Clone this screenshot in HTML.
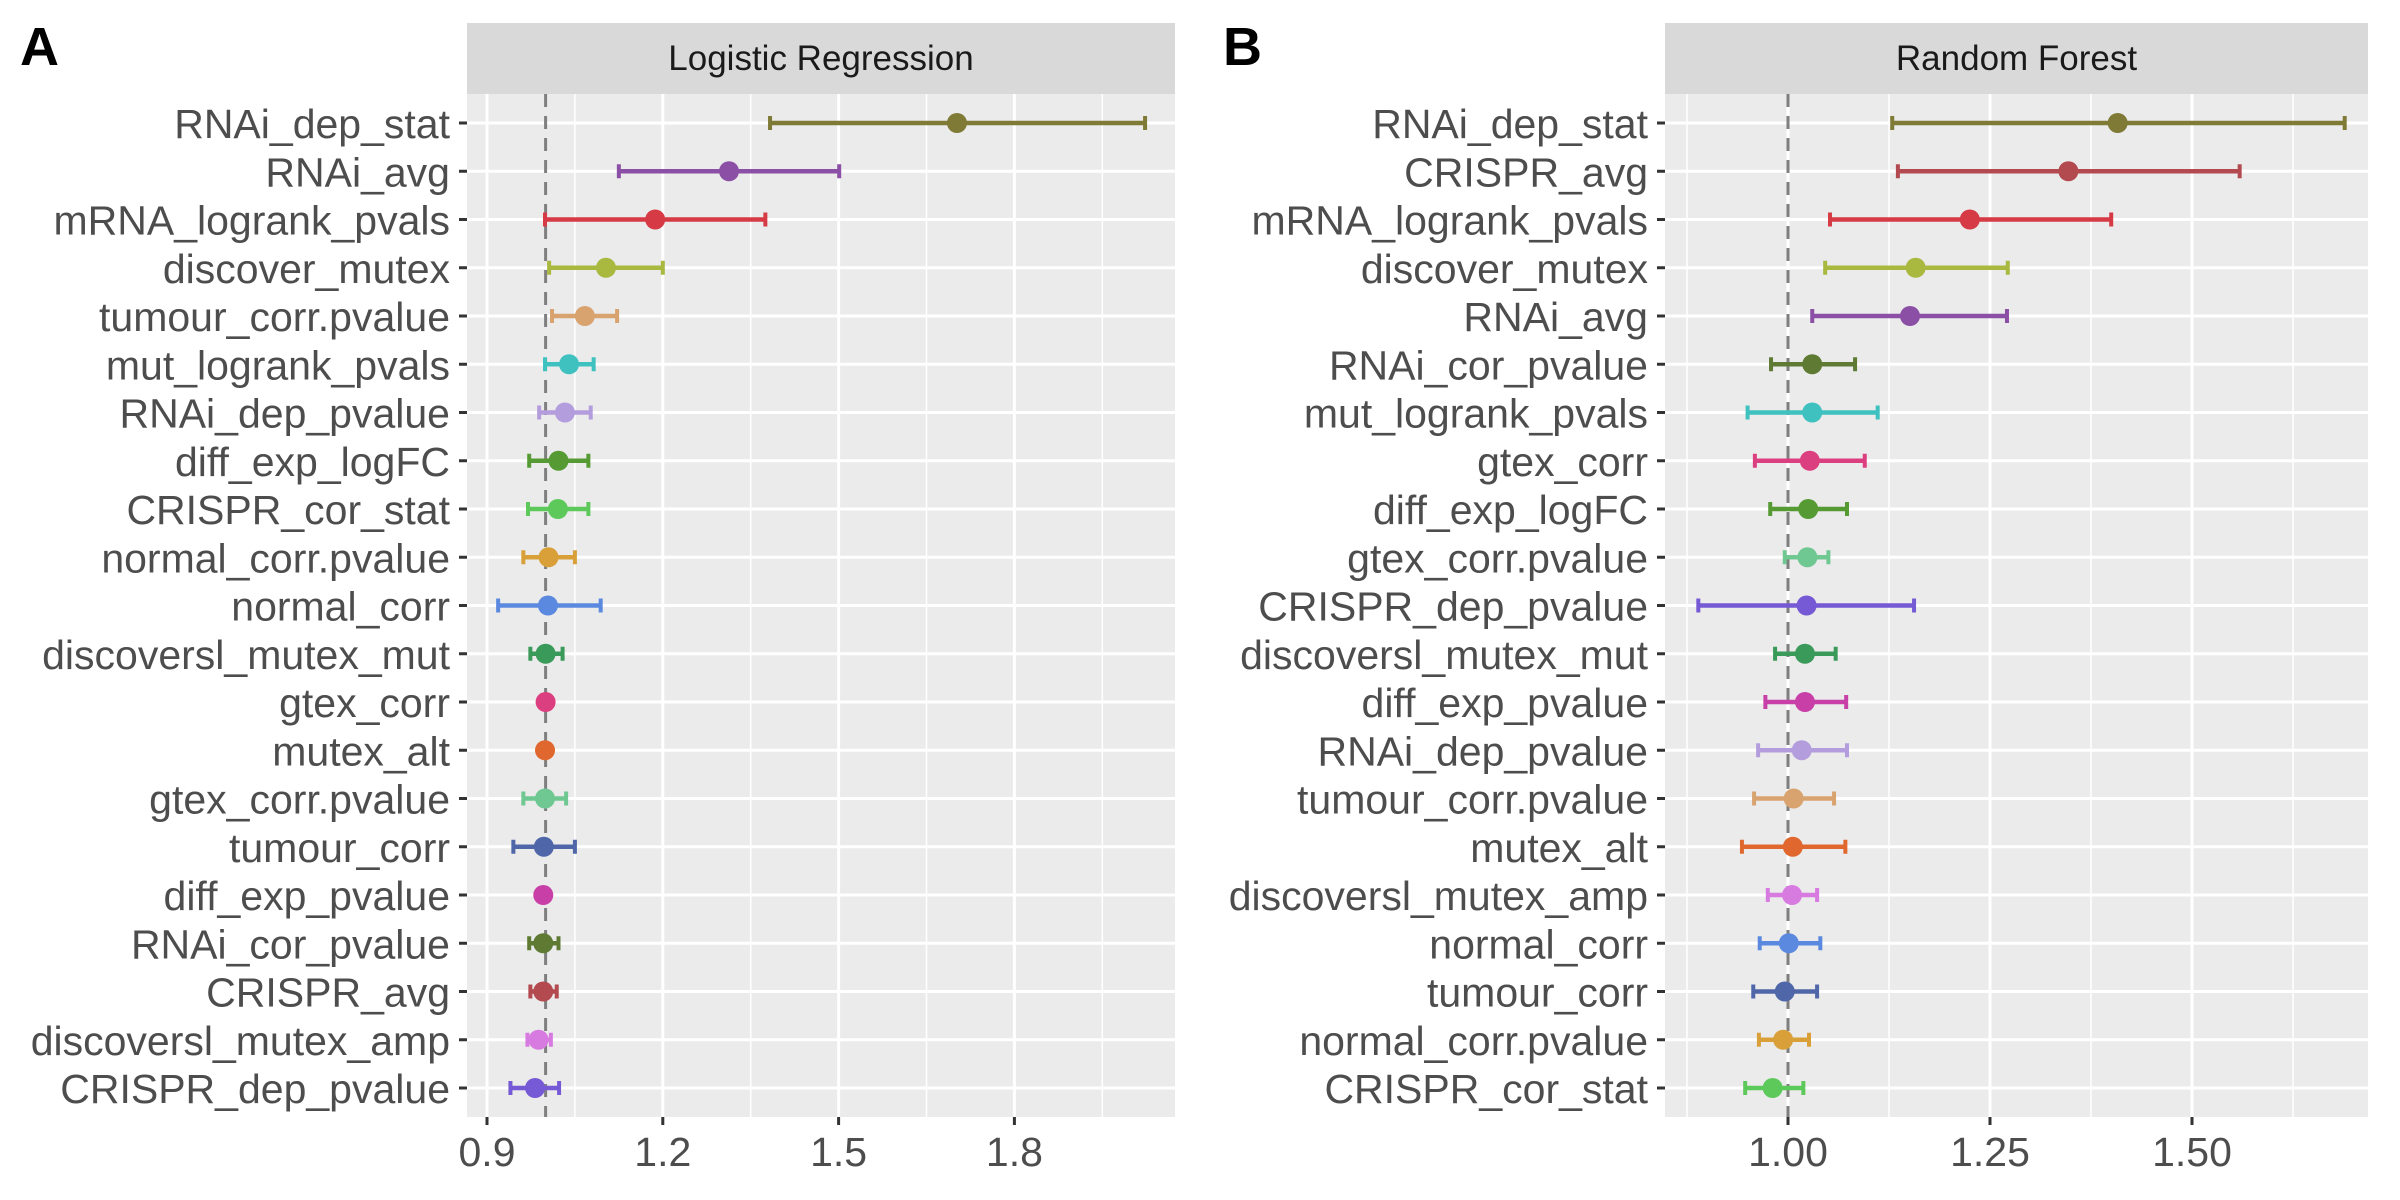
<!DOCTYPE html>
<html><head><meta charset="utf-8"><style>
html,body{margin:0;padding:0;background:#fff;}
svg{display:block;font-family:"Liberation Sans",sans-serif;}
</style></head><body>
<svg id="chart" width="2400" height="1200" viewBox="0 0 2400 1200" xmlns="http://www.w3.org/2000/svg"></svg>
<script>
// Panel A: Logistic Regression
const lrFeatures = ["RNAi_dep_stat","RNAi_avg","mRNA_logrank_pvals","discover_mutex","tumour_corr.pvalue","mut_logrank_pvals","RNAi_dep_pvalue","diff_exp_logFC","CRISPR_cor_stat","normal_corr.pvalue","normal_corr","discoversl_mutex_mut","gtex_corr","mutex_alt","gtex_corr.pvalue","tumour_corr","diff_exp_pvalue","RNAi_cor_pvalue","CRISPR_avg","discoversl_mutex_amp","CRISPR_dep_pvalue"];
const lrEst = [1.702,1.313,1.187,1.103,1.067,1.040,1.033,1.022,1.021,1.005,1.004,1.000,1.000,0.999,0.999,0.997,0.996,0.996,0.996,0.988,0.982];
const lrLow = [1.383,1.125,0.999,1.006,1.011,0.999,0.989,0.972,0.970,0.962,0.919,0.974,0.996,0.996,0.962,0.945,0.993,0.972,0.974,0.969,0.940];
const lrHigh = [2.023,1.501,1.375,1.200,1.122,1.082,1.077,1.073,1.073,1.050,1.094,1.029,1.004,1.002,1.035,1.050,0.999,1.022,1.019,1.009,1.023];
const lrTicks = [0.9,1.2,1.5,1.8];
const lrTickLabels = ["0.9","1.2","1.5","1.8"];
const lrMinor = [1.05,1.35,1.65,1.95];
// Panel B: Random Forest
const rfFeatures = ["RNAi_dep_stat","CRISPR_avg","mRNA_logrank_pvals","discover_mutex","RNAi_avg","RNAi_cor_pvalue","mut_logrank_pvals","gtex_corr","diff_exp_logFC","gtex_corr.pvalue","CRISPR_dep_pvalue","discoversl_mutex_mut","diff_exp_pvalue","RNAi_dep_pvalue","tumour_corr.pvalue","mutex_alt","discoversl_mutex_amp","normal_corr","tumour_corr","normal_corr.pvalue","CRISPR_cor_stat"];
const rfEst = [1.408,1.347,1.225,1.158,1.151,1.030,1.030,1.027,1.025,1.024,1.023,1.021,1.021,1.017,1.007,1.006,1.005,1.001,0.996,0.994,0.981];
const rfLow = [1.129,1.136,1.052,1.046,1.030,0.979,0.950,0.959,0.978,0.996,0.889,0.984,0.972,0.963,0.958,0.943,0.975,0.965,0.957,0.964,0.947];
const rfHigh = [1.689,1.559,1.400,1.272,1.271,1.083,1.111,1.095,1.073,1.050,1.156,1.059,1.072,1.073,1.057,1.071,1.036,1.040,1.036,1.026,1.019];
const rfTicks = [1.0,1.25,1.5];
const rfTickLabels = ["1.00","1.25","1.50"];
const rfMinor = [0.875,1.125,1.375,1.625];

const featColors = {
 "RNAi_dep_stat":"#7f7a35","RNAi_avg":"#8b4fa6","mRNA_logrank_pvals":"#d63a44","discover_mutex":"#a9b83f",
 "tumour_corr.pvalue":"#d9a36f","mut_logrank_pvals":"#3fc1c0","RNAi_dep_pvalue":"#b49ddd","diff_exp_logFC":"#559a32",
 "CRISPR_cor_stat":"#5ec95b","normal_corr.pvalue":"#d9a03a","normal_corr":"#5b89e0","discoversl_mutex_mut":"#3a9a5a",
 "gtex_corr":"#dc3f7f","mutex_alt":"#e0682f","gtex_corr.pvalue":"#6fc891","tumour_corr":"#4f66a8",
 "diff_exp_pvalue":"#c83fa8","RNAi_cor_pvalue":"#5e7a33","CRISPR_avg":"#b24a50","discoversl_mutex_amp":"#d77be0",
 "CRISPR_dep_pvalue":"#7559d5"};

const NS="http://www.w3.org/2000/svg";
const svg=document.getElementById('chart');
function mk(tag,attrs,parent){const e=document.createElementNS(NS,tag);for(const k in attrs)e.setAttribute(k,attrs[k]);(parent||svg).appendChild(e);return e;}

function panel(cfg){
  const g=mk('g',{});
  
  
  const top=94,bot=1117,rowTop=123,rowStep=48.25;
  const x=v=>cfg.x0+(v-cfg.v0)*cfg.ppu;
  const y=i=>rowTop+i*rowStep;
  const L=mk('text',{x:cfg.letterX,y:65,'font-size':54,'font-weight':'bold',fill:'#000'},g);
  L.textContent=cfg.letter;
  
  
  const s=mk('rect',{x:cfg.left,y:23,width:cfg.right-cfg.left,height:71,fill:'#d9d9d9'},g);
  
  
  const st=mk('text',{x:(cfg.left+cfg.right)/2,y:70,'font-size':35,'text-anchor':'middle',fill:'#1a1a1a'},g);
  st.textContent=cfg.title;
  
  
  const bg=mk('rect',{x:cfg.left,y:top,width:cfg.right-cfg.left,height:bot-top,fill:'#ebebeb'},g);
  
  
  cfg.minor.forEach(v=>{const l=mk('line',{x1:x(v),x2:x(v),y1:top,y2:bot,stroke:'#fff','stroke-width':1.5},g);
    
    });
  cfg.ticks.forEach(v=>{const l=mk('line',{x1:x(v),x2:x(v),y1:top,y2:bot,stroke:'#fff','stroke-width':3},g);
    
    });
  cfg.feats.forEach((f,i)=>{const l=mk('line',{x1:cfg.left,x2:cfg.right,y1:y(i),y2:y(i),stroke:'#fff','stroke-width':3},g);
    
    });
  const ref=mk('line',{x1:x(1),x2:x(1),y1:top,y2:bot,stroke:'#7f7f7f','stroke-width':3,'stroke-dasharray':'13,9'},g);
  
  
  cfg.feats.forEach((f,i)=>{
    const c=featColors[f]; const yy=y(i);
    const eg=mk('g',{},g);
    
    
    mk('line',{x1:x(cfg.low[i]),x2:x(cfg.high[i]),y1:yy,y2:yy,stroke:c,'stroke-width':4.5},eg);
    mk('line',{x1:x(cfg.low[i]),x2:x(cfg.low[i]),y1:yy-7,y2:yy+7,stroke:c,'stroke-width':4},eg);
    mk('line',{x1:x(cfg.high[i]),x2:x(cfg.high[i]),y1:yy-7,y2:yy+7,stroke:c,'stroke-width':4},eg);
    const p=mk('circle',{cx:x(cfg.est[i]),cy:yy,r:10,fill:c},g);
    
    
    const t=mk('line',{x1:cfg.left-8,x2:cfg.left,y1:yy,y2:yy,stroke:'#333','stroke-width':3},g);
    
    
    const lb=mk('text',{x:cfg.left-17,y:yy+15,'font-size':41,'text-anchor':'end',fill:'#4d4d4d'},g);
    lb.textContent=f;
    
    
  });
  cfg.ticks.forEach((v,i)=>{
    const t=mk('line',{x1:x(v),x2:x(v),y1:bot,y2:bot+8,stroke:'#333','stroke-width':3},g);
    
    
    const lb=mk('text',{x:x(v),y:1166,'font-size':41,'text-anchor':'middle',fill:'#4d4d4d'},g);
    lb.textContent=cfg.tickLabels[i];
    
    
  });
}
panel({name:'panel-logistic-regression',letter:'A',letterX:20,title:'Logistic Regression',left:467,right:1175,x0:487,v0:0.9,ppu:586,
  feats:lrFeatures,est:lrEst,low:lrLow,high:lrHigh,ticks:lrTicks,tickLabels:lrTickLabels,minor:lrMinor});
panel({name:'panel-random-forest',letter:'B',letterX:1223,title:'Random Forest',left:1665,right:2368,x0:1788,v0:1.0,ppu:808,
  feats:rfFeatures,est:rfEst,low:rfLow,high:rfHigh,ticks:rfTicks,tickLabels:rfTickLabels,minor:rfMinor});
</script>
</body></html>
